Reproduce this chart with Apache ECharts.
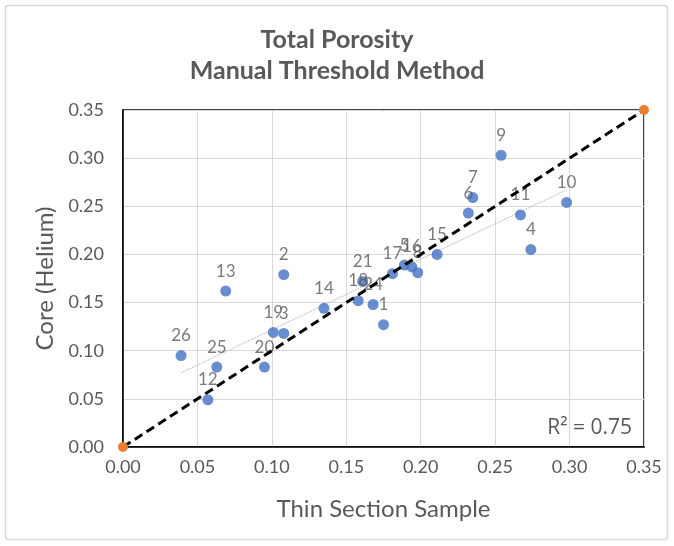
<!DOCTYPE html>
<html>
<head>
<meta charset="utf-8">
<script src="https://cdn.jsdelivr.net/npm/echarts@6/dist/echarts.min.js"></script>
<style>
html,body{margin:0;padding:0;background:#fff;}
#c{width:674px;height:546px;}
</style>
</head>
<body>
<div id="c"></div>
<script>
// Sample ids, Thin Section (x) and Core Helium (y) porosity
const sampleIds = ['1','2','3','4','5','6','7','8','9','10','11','12','13','14','15','16','17','18','19','20','21','24','25','26'];
const thinSection = [0.175,0.108,0.108,0.274,0.189,0.232,0.235,0.198,0.254,0.298,0.267,0.057,0.069,0.135,0.211,0.194,0.181,0.158,0.101,0.095,0.161,0.168,0.063,0.039];
const coreHelium  = [0.127,0.179,0.118,0.205,0.189,0.243,0.259,0.181,0.303,0.254,0.241,0.049,0.162,0.144,0.200,0.187,0.180,0.152,0.119,0.083,0.172,0.148,0.083,0.095];
const oneToOne = [[0,0],[0.35,0.35]];
const r2Text = 'R² = 0.75';
const titleLines = ['Total Porosity','Manual Threshold Method'];
const xName = 'Thin Section Sample';
const yName = 'Core (Helium)';

// least-squares trendline across the data's x range
const n = thinSection.length;
const mx = thinSection.reduce((a,b)=>a+b,0)/n;
const my = coreHelium.reduce((a,b)=>a+b,0)/n;
let sxy=0,sxx=0;
for(let i=0;i<n;i++){sxy+=(thinSection[i]-mx)*(coreHelium[i]-my);sxx+=(thinSection[i]-mx)**2;}
const slope=sxy/sxx, icpt=my-slope*mx;
const xmin=Math.min(...thinSection), xmax=Math.max(...thinSection);
const trend=[[xmin,icpt+slope*xmin],[xmax,icpt+slope*xmax]];

const pts = thinSection.map((x,i)=>({value:[x,coreHelium[i]],name:sampleIds[i]}));
const FONT='Lato';
const TXT='#595959';

const chart = echarts.init(document.getElementById('c'),null,{renderer:'canvas'});
chart.setOption({
  animation:false,
  backgroundColor:'#fff',
  textStyle:{fontFamily:FONT},
  title:{
    text:titleLines.join('\n'),
    left:'center', top:19,
    textStyle:{fontFamily:FONT,fontSize:25,fontWeight:'bold',color:TXT,lineHeight:31}
  },
  graphic:[
    {type:'rect',shape:{x:5.5,y:5.5,width:662,height:534,r:3},style:{fill:'none',stroke:'#D9D9D9',lineWidth:1.5},z:-10},
    {type:'text',right:42,top:418,style:{text:r2Text,fontFamily:'Open Sans',fontSize:21,fill:TXT}}
  ],
  grid:{left:123,right:30,top:110,bottom:99,show:true,borderColor:'#000',borderWidth:1.5},
  xAxis:{
    type:'value',min:0,max:0.35,interval:0.05,
    name:xName,nameLocation:'middle',nameGap:50,
    nameTextStyle:{fontFamily:FONT,fontSize:24,color:TXT},
    axisLine:{lineStyle:{color:'#000',width:1.5}},
    axisTick:{show:false},
    axisLabel:{formatter:v=>v.toFixed(2),fontFamily:FONT,fontSize:18,color:TXT,margin:11},
    splitLine:{lineStyle:{color:'#D9D9D9',width:1}}
  },
  yAxis:{
    type:'value',min:0,max:0.35,interval:0.05,
    name:yName,nameLocation:'middle',nameGap:63,
    nameTextStyle:{fontFamily:FONT,fontSize:24,color:TXT},
    axisLine:{show:true,lineStyle:{color:'#000',width:1.5}},
    axisTick:{show:false},
    axisLabel:{formatter:v=>v.toFixed(2),fontFamily:FONT,fontSize:18,color:TXT,margin:19},
    splitLine:{lineStyle:{color:'#D9D9D9',width:1}}
  },
  series:[
    {type:'line',data:trend,symbol:'none',lineStyle:{color:'#A6A6A6',width:1,type:'dotted'},z:1,silent:true},
    {type:'line',data:oneToOne,symbol:'circle',symbolSize:10,
     itemStyle:{color:'#ED7D31'},lineStyle:{color:'#000',width:3,type:[9,5]},z:3},
    {type:'scatter',data:pts,symbolSize:11,itemStyle:{color:'#4472C4'},z:2,
     label:{show:true,position:'top',distance:6,formatter:p=>p.name,fontFamily:FONT,fontSize:17,color:TXT}}
  ]
});
</script>
</body>
</html>
